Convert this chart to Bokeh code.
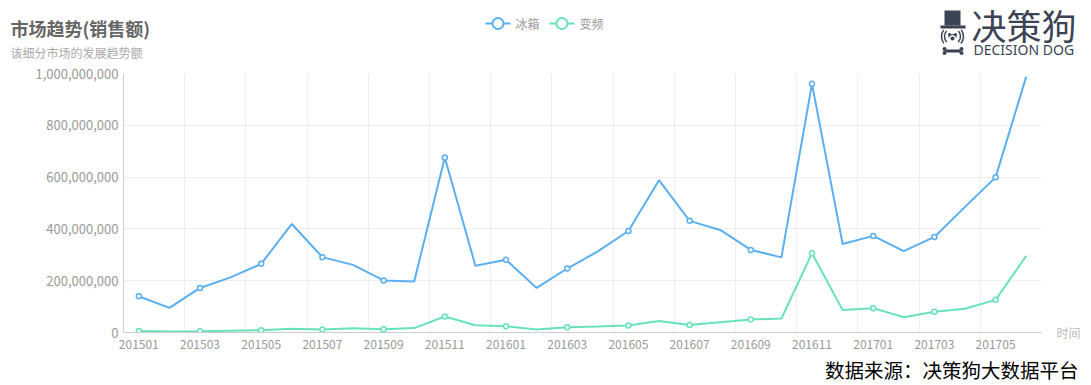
from bokeh.plotting import figure
from bokeh.models import FixedTicker, NumeralTickFormatter, Range1d, LinearAxis, Title
from bokeh.embed import file_html
from bokeh.resources import INLINE
from bokeh.core.properties import value

# ---------------- data ----------------
months = ["201501", "201502", "201503", "201504", "201505", "201506",
          "201507", "201508", "201509", "201510", "201511", "201512",
          "201601", "201602", "201603", "201604", "201605", "201606",
          "201607", "201608", "201609", "201610", "201611", "201612",
          "201701", "201702", "201703", "201704", "201705", "201706"]
fridge = [140e6, 95e6, 172e6, 213e6, 265e6, 419e6,
          291e6, 261e6, 201e6, 197e6, 676e6, 258e6,
          281e6, 172e6, 247e6, 313e6, 392e6, 588e6,
          431e6, 396e6, 319e6, 290e6, 960e6, 342e6,
          373e6, 314e6, 369e6, 485e6, 599e6, 988e6]
inverter = [6e6, 4e6, 5e6, 7e6, 9e6, 14e6,
            12e6, 16e6, 13e6, 17e6, 62e6, 28e6,
            24e6, 12e6, 20e6, 23e6, 27e6, 44e6,
            29e6, 40e6, 50e6, 54e6, 306e6, 87e6,
            94e6, 59e6, 80e6, 92e6, 126e6, 296e6]
y_ticks = [0, 200e6, 400e6, 600e6, 800e6, 1000e6]
series_names = ["冰箱", "变频"]

BLUE = "#5aaff0"
GREEN = "#68e2bb"
FONT = "Noto Sans CJK SC"
W = 1091
H_HDR = 62

# ---------------- header (own root, pixel coordinates) ----------------
hdr = figure(width=W, height=H_HDR, x_range=Range1d(0, W), y_range=Range1d(H_HDR, 0),
             output_backend="svg", toolbar_location=None, min_border=0,
             x_axis_location=None, y_axis_location=None)
hdr.grid.visible = False
hdr.outline_line_color = None

hdr.text(x=[10], y=[27], text=["市场趋势(销售额)"], text_font=value(FONT),
         text_font_size="18px", text_font_style="bold", text_color="#666666",
         text_baseline="middle")
hdr.text(x=[10], y=[52], text=["该细分市场的发展趋势额"], text_font=value(FONT),
         text_font_size="12px", text_color="#aaaaaa", text_baseline="middle")

for (lx, col, name) in [(485, BLUE, series_names[0]), (549, GREEN, series_names[1])]:
    hdr.line([lx, lx + 25], [23, 23], line_color=col, line_width=2)
    hdr.scatter([lx + 12.5], [23], size=11, marker="circle", fill_color="white",
                line_color=col, line_width=2)
    hdr.text(x=[lx + 30], y=[23], text=[name], text_font=value(FONT),
             text_font_size="12px", text_color="#999999", text_baseline="middle")

LOGO = "#3c4354"
hdr.quad(left=[944], right=[960], top=[10], bottom=[25], fill_color=LOGO, line_color=None)
hdr.quad(left=[940], right=[965], top=[25], bottom=[28], fill_color=LOGO, line_color=None)
hdr.arc(x=[952, 952], y=[36, 36], radius=[8, 11], start_angle=[2.4, 2.5], end_angle=[3.9, 3.8],
        line_color=LOGO, line_width=1.5)
hdr.arc(x=[952, 952], y=[36, 36], radius=[8, 11], start_angle=[-0.8, -0.7], end_angle=[0.75, 0.65],
        line_color=LOGO, line_width=1.5)
hdr.scatter([949, 955], [34, 34], size=3, fill_color=LOGO, line_color=None)
hdr.scatter([952], [38], size=4, fill_color=LOGO, line_color=None)
hdr.arc(x=[952], y=[38], radius=[4], start_angle=[0.3], end_angle=[2.84],
        line_color=LOGO, line_width=1.2)
hdr.quad(left=[945], right=[960], top=[49], bottom=[52], fill_color=LOGO, line_color=None)
hdr.scatter([944, 944, 961, 961], [48.5, 52.5, 48.5, 52.5], size=4, fill_color=LOGO, line_color=None)
hdr.text(x=[971], y=[24], text=["决策狗"], text_font=value(FONT), text_font_size="35px",
         text_color=LOGO, text_baseline="middle")
hdr.text(x=[973], y=[49], text=["DECISION DOG"], text_font=value("Noto Sans"),
         text_font_size="14px", text_color=LOGO, text_baseline="middle")

# ---------------- main chart ----------------
n = len(months)
xs = list(range(n))
p = figure(width=W, height=322, x_range=Range1d(-0.5, n - 0.5), y_range=Range1d(0, 1e9),
           min_border_left=123, min_border_right=50, min_border_top=11, min_border_bottom=50,
           output_backend="svg", toolbar_location=None)
p.outline_line_color = None

p.xaxis.ticker = FixedTicker(ticks=list(range(0, n, 2)))
p.xaxis.major_label_overrides = {i: months[i] for i in range(0, n, 2)}
p.yaxis.ticker = FixedTicker(ticks=y_ticks)
p.yaxis.formatter = NumeralTickFormatter(format="0,0")
for ax in (p.xaxis, p.yaxis):
    ax.axis_line_color = "#cccccc"
    ax.major_tick_line_color = None
    ax.minor_tick_line_color = None
    ax.major_tick_out = 0
    ax.minor_tick_out = 0
    ax.major_label_text_color = "#999999"
    ax.major_label_text_font = FONT
    ax.major_label_text_font_size = "12px"
    ax.major_label_standoff = 7
p.yaxis.major_label_text_font_size = "13px"
p.yaxis.major_label_standoff = 5
p.xgrid.ticker = FixedTicker(ticks=[i + 1.5 for i in range(0, n, 2)])
p.grid.grid_line_color = "#eeeeee"

# axis name "时间" at the end of the x axis
ra = LinearAxis(ticker=FixedTicker(ticks=[0]), major_label_overrides={0: "时间"},
                axis_line_color=None, major_tick_line_color=None, minor_tick_line_color=None,
                major_tick_out=0, minor_tick_out=0,
                major_label_standoff=15, major_label_text_color="#bbbbbb",
                major_label_text_font=FONT, major_label_text_font_size="12px")
p.add_layout(ra, "right")

for ys, col in [(fridge, BLUE), (inverter, GREEN)]:
    p.line(xs, ys, line_color=col, line_width=2)
    p.scatter(xs[::2], ys[::2], size=5, marker="circle", fill_color="white",
              line_color=col, line_width=1.5)

p.add_layout(Title(text="数据来源：决策狗大数据平台", align="right", offset=-37, standoff=2,
                   text_font=FONT, text_font_size="19.5px", text_font_style="normal",
                   text_color="#000000"), "below")

open("out.html", "w").write(file_html([hdr, p], INLINE))
